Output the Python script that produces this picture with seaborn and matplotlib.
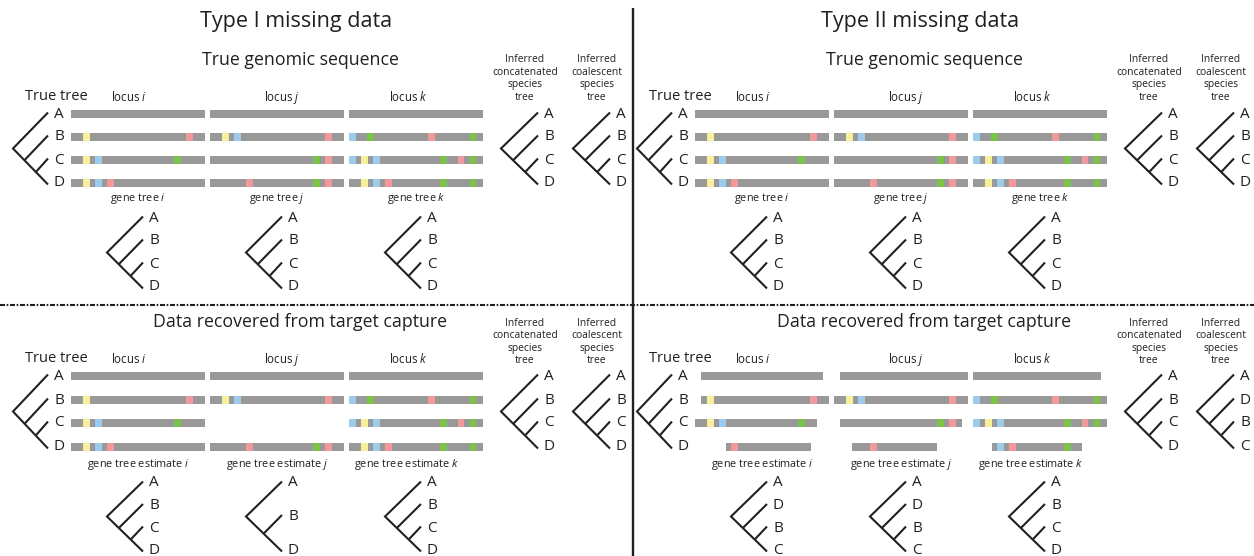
import matplotlib
matplotlib.use("Agg")
import matplotlib.pyplot as plt
import seaborn as sns

sns.set_theme(style="white")
plt.rcParams['font.family'] = ['Open Sans', 'DejaVu Sans']
plt.rcParams['mathtext.fontset'] = 'custom'
plt.rcParams['mathtext.rm'] = 'Open Sans'
plt.rcParams['mathtext.it'] = 'Open Sans:italic'

# ---- data ----
taxa = ['A', 'B', 'C', 'D']
loci = ['i', 'j', 'k']
panel_titles = ['Type I missing data', 'Type II missing data']
section_titles = ['True genomic sequence', 'Data recovered from target capture']
gene_label_prefix = ['gene tree', 'gene tree estimate']
inferred_labels = [['Inferred', 'concatenated', 'species', 'tree'],
                   ['Inferred', 'coalescent', 'species', 'tree']]

locus_length = 100
site_width = 5

# variable sites along each locus: (site, state)
sites_i = {'A': [], 'B': [(9, 'y'), (86, 'r')],
           'C': [(9, 'y'), (18, 'b'), (77, 'g')],
           'D': [(9, 'y'), (18, 'b'), (27, 'r')]}
sites_j = {'A': [], 'B': [(9, 'y'), (18, 'b'), (86, 'r')],
           'C': [(77, 'g'), (86, 'r')],
           'D': [(27, 'r'), (77, 'g'), (86, 'r')]}
sites_k = {'A': [], 'B': [(0, 'b'), (13.5, 'g'), (59, 'r'), (90, 'g')],
           'C': [(0, 'b'), (9, 'y'), (18, 'b'), (68, 'g'), (81, 'r'), (90, 'g')],
           'D': [(9, 'y'), (18, 'b'), (27, 'r'), (68, 'g'), (90, 'g')]}
locus_sites = {'i': sites_i, 'j': sites_j, 'k': sites_k}

state_colors = {'y': '#f6f09c', 'b': '#9ccbec', 'r': '#f29a9b', 'g': '#7dc24b'}
seq_color = '#999999'

# sequenced stretch of each locus per taxon (A, B, C, D); None = not recovered
cover_true = {'i': [(0, 100)] * 4, 'j': [(0, 100)] * 4, 'k': [(0, 100)] * 4}
cover_type1 = {'i': [(0, 100)] * 4,
               'j': [(0, 100), (0, 100), None, (0, 100)],
               'k': [(0, 100)] * 4}
cover_type2 = {'i': [(4.5, 95.3), (4.5, 100), (0, 91), (23.1, 86.6)],
               'j': [(4.5, 100), (0, 100), (4.5, 95.3), (13.2, 76.6)],
               'k': [(0, 95.5), (0, 100), (0, 100), (14, 81.3)]}

true_tree = 'ABCD'
gene_trees_true = {'i': 'ABCD', 'j': 'ABCD', 'k': 'ABCD'}
gene_trees_type1 = {'i': 'ABCD', 'j': 'ABD', 'k': 'ABCD'}
gene_trees_type2 = {'i': 'ADBC', 'j': 'ADBC', 'k': 'ABCD'}
species_trees_true = ['ABCD', 'ABCD']
species_trees_type1 = ['ABCD', 'ABCD']
species_trees_type2 = ['ABCD', 'ADBC']

# panels: (column, row, coverage, gene trees, species trees)
panels = [
    (0, 0, cover_true, gene_trees_true, species_trees_true),
    (1, 0, cover_true, gene_trees_true, species_trees_true),
    (0, 1, cover_type1, gene_trees_type1, species_trees_type1),
    (1, 1, cover_type2, gene_trees_type2, species_trees_type2),
]

# ---- layout (pixels) ----
W, H = 1254, 556
col_dx = [0, 624]
row_y = [[114, 137, 160, 183], [376, 400, 423, 447]]
gene_tip_y = [[218, 241, 264, 287], [483, 505.5, 528, 550]]
gene_lab_y = [199, 465]
section_y = [60, 322]
locus_lab_y = [97, 359]
inferred_top = [60, 323]
locus_left = [71, 210, 349]
locus_w = 134
bar_h = 7.4
locus_lab_x = [129, 282, 408]
gene_lab_x = [[138, 277, 416], [138, 277, 407]]
species_root_x = [501, 573]
inferred_lab_x = [525, 597]
ink = '#231f20'
tree_lw = 1.5

fig = plt.figure(figsize=(W / 100, H / 100), dpi=100)
ax = fig.add_axes([0, 0, 1, 1])
ax.set_xlim(0, W)
ax.set_ylim(H, 0)
ax.axis('off')


def draw_tree(order, x0, x1, ys, fs=11):
    y_top, y_bot = ys[0], ys[-1]
    s = (y_bot - y_top) / (2 * (x1 - x0))
    ymid = (y_top + y_bot) / 2
    kw = dict(color=ink, lw=tree_lw, solid_capstyle='butt', solid_joinstyle='miter')
    ax.plot([x1, x0, x1], [y_top - 1.5, ymid, y_bot + 1.5], **kw)
    for y in ys[1:-1]:
        u = (y - y_top) / (2 * s)
        ax.plot([x0 + u, x1], [ymid + s * u, y - 1.5], **kw)
    for name, y in zip(order, ys):
        ax.text(x1 + 11, y, name, ha='center', va='center', fontsize=fs, color=ink)


def tip_positions(order, ys):
    if len(order) == len(ys):
        return ys
    n = len(order)
    return [ys[0] + (ys[-1] - ys[0]) * t / (n - 1) for t in range(n)]


# titles
for c, title in enumerate(panel_titles):
    ax.text(296 + col_dx[c], 21, title, ha='center', va='center', fontsize=15.5, color=ink)

for c, r, cover, gtrees, strees in panels:
    dx = col_dx[c]
    ys = row_y[r]
    ax.text(300 + dx, section_y[r], section_titles[r], ha='center', va='center',
            fontsize=12.8, color=ink)
    ax.text(25 + dx, locus_lab_y[r] - 1, 'True tree', ha='left', va='center',
            fontsize=10.5, color=ink)
    draw_tree(true_tree, 13 + dx, 48 + dx, ys)

    for li, loc in enumerate(loci):
        x_left = locus_left[li] + dx
        scale = locus_w / locus_length
        ax.text(locus_lab_x[li] + dx, locus_lab_y[r], 'locus $' + loc + '$',
                ha='center', va='center', fontsize=8.3, color=ink)
        for ti, taxon in enumerate(taxa):
            cov = cover[loc][ti]
            if cov is None:
                continue
            a, b = cov
            ax.barh(ys[ti], (b - a) * scale, left=x_left + a * scale, height=bar_h,
                    color=seq_color, linewidth=0)
            for site, state in locus_sites[loc][taxon]:
                s0, s1 = max(site, a), min(site + site_width, b)
                if s1 > s0:
                    ax.barh(ys[ti], (s1 - s0) * scale, left=x_left + s0 * scale,
                            height=bar_h, color=state_colors[state], linewidth=0)
        # gene tree below each locus
        ax.text(gene_lab_x[r][li] + dx, gene_lab_y[r],
                gene_label_prefix[r] + ' $' + loc + '$',
                ha='center', va='center', fontsize=7.8, color=ink)
        order = gtrees[loc]
        draw_tree(order, x_left + 36, x_left + 72, tip_positions(order, gene_tip_y[r]))

    for si, order in enumerate(strees):
        x0 = species_root_x[si] + dx
        draw_tree(order, x0, x0 + 37, ys)
        for li, word in enumerate(inferred_labels[si]):
            ax.text(inferred_lab_x[si] + dx, inferred_top[r] + li * 12.5, word,
                    ha='center', va='center', fontsize=7.4, color=ink)

# separators
ax.plot([633, 633], [8, H], color=ink, lw=1.7, solid_capstyle='butt')
ax.plot([0, W], [305, 305], color=ink, lw=1.5,
        linestyle=(0, (2.4, 0.8, 0.8, 0.8)))

fig.savefig('out.png', dpi=100)
